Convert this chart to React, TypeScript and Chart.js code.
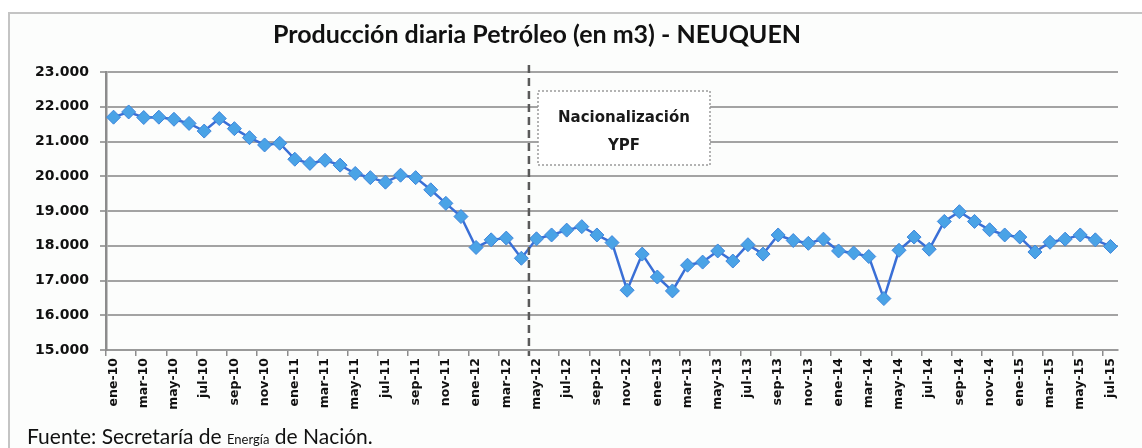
import React, { useEffect, useRef } from "react";
import { Chart, registerables } from "chart.js";

Chart.register(...registerables);

const MONTHS = ["ene", "feb", "mar", "abr", "may", "jun", "jul", "ago", "sep", "oct", "nov", "dic"];
const YEARS = ["10", "11", "12", "13", "14", "15"];
const categories: string[] = [];
YEARS.forEach((y) => MONTHS.forEach((m) => categories.push(`${m}-${y}`)));
categories.splice(67);

const production = [
  21700, 21850, 21690, 21700, 21640, 21520, 21300, 21660, 21370, 21110, 20900, 20950,
  20490, 20370, 20460, 20320, 20080, 19960, 19830, 20030, 19960, 19610, 19220, 18840,
  17950, 18170, 18220, 17640, 18200, 18310, 18450, 18550, 18310, 18090, 16720, 17760,
  17100, 16700, 17440, 17530, 17850, 17560, 18030, 17760, 18310, 18150, 18070, 18190,
  17850, 17790, 17690, 16480, 17870, 18250, 17900, 18700, 18980, 18700, 18460, 18310,
  18250, 17820, 18100, 18190, 18310, 18170, 17980,
];

const Y_MIN = 15000;
const Y_MAX = 23000;
const Y_STEP = 1000;

const TITLE = "Producción diaria Petróleo (en m3) - NEUQUEN";
const EVENT_INDEX = 28; // may-12
const EVENT_LINES = ["Nacionalización", "YPF"];
const SOURCE_PARTS = ["Fuente: Secretaría de ", "Energía", " de Nación."];

const fmt = (v: number) => String(v).replace(/\B(?=(\d{3})+(?!\d))/g, ".");

const decorPlugin = {
  id: "decor",
  beforeDraw(chart: any) {
    const ctx = chart.ctx;
    ctx.save();
    ctx.fillStyle = "#ffffff";
    ctx.fillRect(0, 0, chart.width, chart.height);
    ctx.fillStyle = "#fcfdfc";
    ctx.fillRect(9, 13, chart.width, chart.height);
    ctx.strokeStyle = "#c4c4c4";
    ctx.lineWidth = 2;
    ctx.beginPath();
    ctx.moveTo(9, chart.height);
    ctx.lineTo(9, 13);
    ctx.lineTo(chart.width, 13);
    ctx.stroke();
    ctx.restore();
  },
  afterDatasetsDraw(chart: any) {
    const ctx = chart.ctx;
    const x = chart.scales.x;
    const area = chart.chartArea;
    const lx = (x.getPixelForValue(EVENT_INDEX - 1) + x.getPixelForValue(EVENT_INDEX)) / 2;
    ctx.save();
    ctx.strokeStyle = "#5a5a5a";
    ctx.lineWidth = 2.5;
    ctx.setLineDash([8, 5]);
    ctx.beginPath();
    ctx.moveTo(lx, 65);
    ctx.lineTo(lx, area.bottom + 6);
    ctx.stroke();

    // annotation box
    const bx = 538, by = 91, bw = 172, bh = 74;
    ctx.setLineDash([2, 2]);
    ctx.fillStyle = "#ffffff";
    ctx.fillRect(bx, by, bw, bh);
    ctx.strokeStyle = "#9a9a9a";
    ctx.lineWidth = 1.5;
    ctx.strokeRect(bx, by, bw, bh);
    ctx.setLineDash([]);
    ctx.fillStyle = "#1a1a1a";
    ctx.font = "bold 15px 'DejaVu Sans'";
    ctx.textAlign = "center";
    ctx.textBaseline = "alphabetic";
    ctx.fillText(EVENT_LINES[0], bx + bw / 2, 122);
    ctx.fillText(EVENT_LINES[1], bx + bw / 2, 150);

    // title
    ctx.font = "bold 25px Lato";
    ctx.fillStyle = "#111111";
    ctx.fillText(TITLE, 537, 43);

    // source
    ctx.textAlign = "left";
    let sx = 27;
    const sy = 444;
    ctx.font = "21px Lato";
    ctx.fillText(SOURCE_PARTS[0], sx, sy);
    sx += ctx.measureText(SOURCE_PARTS[0]).width;
    ctx.font = "13px Lato";
    ctx.fillText(SOURCE_PARTS[1], sx, sy);
    sx += ctx.measureText(SOURCE_PARTS[1]).width;
    ctx.font = "21px Lato";
    ctx.fillText(SOURCE_PARTS[2], sx, sy);
    ctx.restore();
  },
};

export default function App() {
  const ref = useRef<HTMLCanvasElement | null>(null);
  useEffect(() => {
    document.body.style.margin = "0";
    const chart = new Chart(ref.current as HTMLCanvasElement, {
      type: "line",
      data: {
        labels: categories,
        datasets: [
          {
            data: production,
            borderColor: "#3a6fd6",
            borderWidth: 2.5,
            backgroundColor: "#4da0e4",
            pointStyle: "rectRot",
            pointRadius: 7,
            pointBorderColor: "#3f86dc",
            pointBorderWidth: 1,
            pointBackgroundColor: "#4aa3e6",
            tension: 0,
          },
        ],
      },
      options: {
        animation: false,
        responsive: false,
        layout: { padding: { left: 0, right: 24, top: 72, bottom: 0 } },
        plugins: { legend: { display: false }, title: { display: false }, tooltip: { enabled: false } },
        scales: {
          x: {
            type: "category",
            offset: true,
            grid: {
              offset: true,
              drawOnChartArea: false,
              drawTicks: true,
              tickLength: 6,
              tickColor: (c: any) => (c.index % 2 === 0 ? "#8c8c8c" : "rgba(0,0,0,0)"),
              lineWidth: 1.5,
            },
            border: { display: true, color: "#9a9a9a", width: 2 },
            ticks: {
              autoSkip: false,
              maxRotation: 90,
              minRotation: 90,
              padding: 2,
              color: "#111111",
              font: { family: "DejaVu Sans", size: 12.5, weight: "bold" },
              callback: (_v: any, i: number) => (i % 2 === 0 ? categories[i] : ""),
            },
            afterFit: (s: any) => {
              s.height = 98;
            },
          },
          y: {
            min: Y_MIN,
            max: Y_MAX,
            grid: {
              color: "#a3a3a3",
              lineWidth: 2,
              tickLength: 6,
              tickColor: "#a3a3a3",
            },
            border: { display: true, color: "#8c8c8c", width: 2.5 },
            ticks: {
              stepSize: Y_STEP,
              padding: 11,
              color: "#111111",
              font: { family: "DejaVu Sans", size: 14, weight: "bold" },
              callback: (v: any) => fmt(Number(v)),
            },
            afterFit: (s: any) => {
              s.width = 106;
            },
          },
        },
      },
      plugins: [decorPlugin],
    });
    return () => chart.destroy();
  }, []);
  return (
    <div style={{ position: "absolute", left: 0, top: 0, width: 1142, height: 448 }}>
      <canvas ref={ref} width={1142} height={448} />
    </div>
  );
}
